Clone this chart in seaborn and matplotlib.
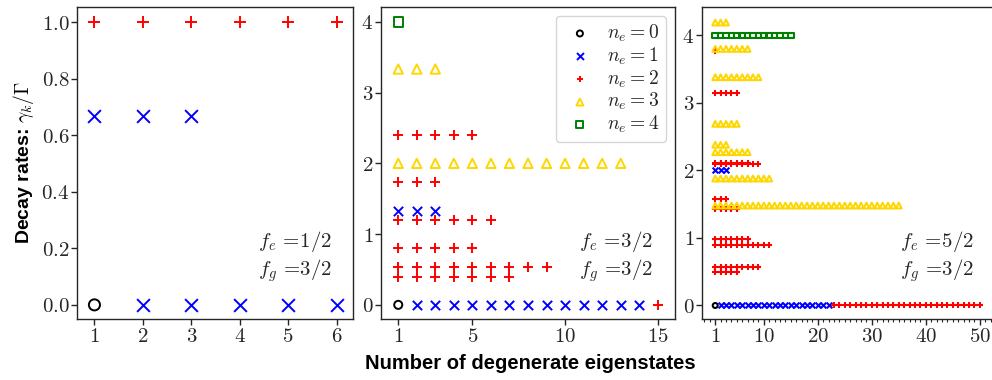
import matplotlib
matplotlib.use("Agg")
import matplotlib.pyplot as plt
from matplotlib.markers import MarkerStyle
from matplotlib.ticker import FuncFormatter, MultipleLocator, FixedLocator
import pandas as pd
import seaborn as sns

# Decay-rate levels: rate gamma_k/Gamma, excitation number n_e, and the
# number of degenerate eigenstates sharing that rate (listed in plotting order)
fe12_rate = [0.0, 0.0, 2 / 3, 1.0]
fe12_ne = [0, 1, 1, 2]
fe12_count = [1, 5, 3, 6]

fe32_rate = [0.0, 0.0, 0.0, 0.4, 0.533, 0.8, 1.2, 1.333, 1.733, 2.0, 2.4, 3.333, 4.0]
fe32_ne = [0, 1, 2, 2, 2, 2, 2, 1, 2, 3, 2, 3, 4]
fe32_count = [1, 13, 1, 7, 9, 5, 6, 3, 3, 13, 5, 3, 1]

fe52_rate = [0.0, 0.0, 0.0, 0.49, 0.57, 0.90, 0.99, 1.43, 1.48, 1.58, 1.88, 2.0,
             2.10, 2.11, 2.27, 2.38, 2.69, 3.14, 3.38, 3.77, 3.80, 4.0, 4.19]
fe52_ne = [0, 1, 2, 2, 2, 2, 2, 2, 3, 2, 3, 1, 2, 2, 3, 3, 3, 2, 3, 2, 3, 4, 3]
fe52_count = [1, 21, 28, 5, 9, 11, 7, 5, 35, 3, 11, 3, 9, 7, 7, 3, 5, 5, 9, 1, 7, 15, 3]

panel_labels = [r"$f_e\,=\!1/2$", r"$f_e\,=\!3/2$", r"$f_e\,=\!5/2$"]
fg_label = r"$f_g\,=\!3/2$"

ne_levels = [0, 1, 2, 3, 4]
ne_markers = ["o", "x", "+", "^", "s"]
ne_colors = ["black", "blue", "red", "gold", "green"]


def expand(rate, ne, count):
    """One row per eigenstate; states sharing a rate are numbered 1, 2, ..."""
    rows, used = [], {}
    for r, n, c in zip(rate, ne, count):
        start = used.get(r, 0)
        for k in range(c):
            rows.append((start + k + 1, r, n))
        used[r] = start + c
    return pd.DataFrame(rows, columns=["state", "rate", "ne"])


sns.set_theme(style="ticks")
plt.rcParams["mathtext.fontset"] = "cm"
plt.rcParams["font.family"] = ["DejaVu Serif"]
plt.rcParams["xtick.direction"] = "out"
plt.rcParams["ytick.direction"] = "out"

fig = plt.figure(figsize=(9.92, 3.8), dpi=100)
bottom, height = 61 / 380, 312 / 380
ax1 = fig.add_axes([77 / 992, bottom, 276 / 992, height])
ax2 = fig.add_axes([381 / 992, bottom, 294 / 992, height])
ax3 = fig.add_axes([702 / 992, bottom, 291 / 992, height])

panels = [
    (ax1, expand(fe12_rate, fe12_ne, fe12_count), 85, 1.4),
    (ax2, expand(fe32_rate, fe32_ne, fe32_count), 45, 1.4),
    (ax3, expand(fe52_rate, fe52_ne, fe52_count), 17, 1.5),
]

for ax, df, size, lw in panels:
    for n, m, c in zip(ne_levels, ne_markers, ne_colors):
        sub = df[df["ne"] == n]
        if sub.empty:
            continue
        if MarkerStyle(m).is_filled():
            kw = dict(facecolor="none", edgecolor=c)
            s = size * (0.75 if m == "o" else 1.0)
        else:
            kw = dict(color=c)
            s = size
        sns.scatterplot(data=sub, x="state", y="rate", marker=m, s=s,
                        linewidth=lw, ax=ax, label=rf"$n_e = {n}$", legend=False, **kw)
    ax.set_xlabel("")
    ax.set_ylabel("")
    for sp in ax.spines.values():
        sp.set_linewidth(1.0)
    ax.tick_params(labelsize=15, length=4, width=1.0)
    ax.tick_params(axis="x", pad=1.5)
    ax.tick_params(axis="y", pad=1.5)

# panel-specific axes
ax1.set_xlim(0.64, 6.34)
ax1.set_ylim(-0.05, 1.054)
ax1.xaxis.set_major_locator(FixedLocator([1, 2, 3, 4, 5, 6]))
ax1.yaxis.set_major_locator(FixedLocator([0, 0.2, 0.4, 0.6, 0.8, 1.0]))
ax1.yaxis.set_major_formatter(FuncFormatter(lambda v, p: f"${v:.1f}$"))
ax1.xaxis.set_major_formatter(FuncFormatter(lambda v, p: f"${v:g}$"))

ax2.set_xlim(0.07, 15.93)
ax2.set_ylim(-0.2, 4.21)
ax2.xaxis.set_major_locator(FixedLocator([1, 5, 10, 15]))
ax2.yaxis.set_major_locator(FixedLocator([0, 1, 2, 3, 4]))

ax3.set_xlim(-1.45, 52.45)
ax3.set_ylim(-0.2, 4.42)
ax3.xaxis.set_major_locator(FixedLocator([1, 10, 20, 30, 40, 50]))
ax3.xaxis.set_minor_locator(MultipleLocator(1))
ax3.yaxis.set_major_locator(FixedLocator([0, 1, 2, 3, 4]))
ax3.tick_params(axis="x", which="minor", length=2.5, width=0.8)

for ax in (ax2, ax3):
    ax.xaxis.set_major_formatter(FuncFormatter(lambda v, p: f"${v:g}$"))
    ax.yaxis.set_major_formatter(FuncFormatter(lambda v, p: f"${v:g}$"))

# f_e / f_g annotations
for ax, lab, xt in zip((ax1, ax2, ax3), panel_labels, (0.656, 0.673, 0.68)):
    ax.text(xt, 0.25, lab, transform=ax.transAxes, fontsize=15, va="center", ha="left")
    ax.text(xt, 0.155, fg_label, transform=ax.transAxes, fontsize=15, va="center", ha="left")

ax2.legend(loc="upper right", fontsize=14, markerscale=0.75, borderaxespad=0.45,
           labelspacing=0.08, handletextpad=0.5, handlelength=1.8, borderpad=0.35,
           framealpha=0.8)

ax1.set_ylabel(r"Decay rates: $\gamma_k/\Gamma$", fontsize=14, fontweight="bold",
               family="Liberation Sans", color="black", labelpad=4)
fig.text(0.535, 0.043, "Number of degenerate eigenstates", fontsize=14.5,
         fontweight="bold", family="Liberation Sans", color="black",
         ha="center", va="center")

fig.savefig("out.png", dpi=100)
